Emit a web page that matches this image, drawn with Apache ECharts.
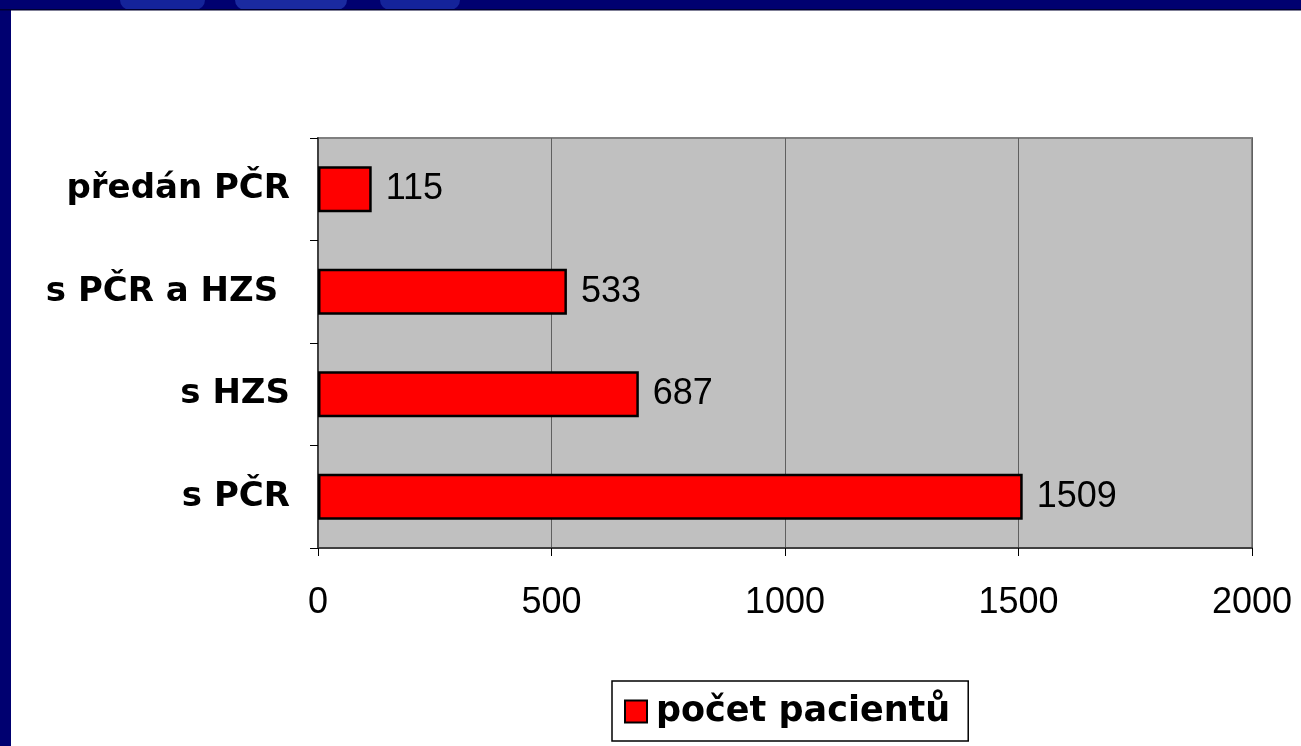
<!DOCTYPE html>
<html>
<head>
<meta charset="utf-8">
<script src="https://cdn.jsdelivr.net/npm/echarts@6/dist/echarts.min.js"></script>
<style>
html,body{margin:0;padding:0;background:#fff;}
#c{width:1301px;height:746px;}
</style>
</head>
<body>
<div id="c"></div>
<script>
// Data
var categories = ['s PČR', 's HZS', 's PČR a HZS ', 'předán PČR'];
var values = [1509, 687, 533, 115];
var seriesName = 'počet pacientů';
var xMin = 0, xMax = 2000, xInterval = 500;

var chart = echarts.init(document.getElementById('c'), null, {renderer: 'canvas'});
var navy = '#000070';
chart.setOption({
  backgroundColor: '#ffffff',
  animation: false,
  graphic: [
    {type: 'rect', shape: {x: 0, y: 0, width: 1301, height: 10}, style: {fill: navy}, z: 100},
    {type: 'rect', shape: {x: 0, y: 0, width: 11, height: 746}, style: {fill: navy}, z: 100},
    {type: 'rect', shape: {x: 120, y: 0, width: 85, height: 10, r: [0, 0, 30, 30]}, style: {fill: '#14239a'}, z: 101},
    {type: 'rect', shape: {x: 235, y: 0, width: 112, height: 10, r: [0, 0, 30, 30]}, style: {fill: '#1a2aa0'}, z: 101},
    {type: 'rect', shape: {x: 380, y: 0, width: 80, height: 10, r: [0, 0, 30, 30]}, style: {fill: '#14239a'}, z: 101},
    {type: 'rect', shape: {x: 0, y: 9, width: 1301, height: 1.5}, style: {fill: '#000030'}, z: 102}
  ],
  grid: {
    left: 318, top: 138, right: 49, bottom: 198,
    show: true, backgroundColor: '#C0C0C0', borderColor: '#808080', borderWidth: 2
  },
  legend: {
    data: [seriesName],
    left: 612, top: 681,
    backgroundColor: '#ffffff',
    borderColor: '#000000', borderWidth: 1.5,
    padding: [13, 18, 12, 12],
    itemWidth: 22, itemHeight: 22, itemGap: 10,
    icon: 'rect',
    itemStyle: {color: '#ff0000', borderColor: '#000', borderWidth: 2},
    textStyle: {fontFamily: 'DejaVu Sans', fontWeight: 'bold', fontSize: 35, color: '#000', padding: [0, 0, 0, 4]}
  },
  xAxis: {
    type: 'value', min: xMin, max: xMax, interval: xInterval,
    axisLine: {show: true, lineStyle: {color: '#404040', width: 2}},
    axisTick: {show: true, length: 8, lineStyle: {color: '#000', width: 1}},
    splitLine: {show: true, lineStyle: {color: '#606060', width: 1}},
    axisLabel: {fontFamily: 'Liberation Sans', fontSize: 36, color: '#000', margin: 37,
      formatter: function (v) { return String(v); }}
  },
  yAxis: {
    type: 'category', data: categories,
    axisLine: {show: true, lineStyle: {color: '#404040', width: 2}},
    axisTick: {show: true, length: 8, lineStyle: {color: '#000', width: 1}},
    axisLabel: {fontFamily: 'DejaVu Sans', fontWeight: 'bold', fontSize: 34, color: '#000', margin: 28}
  },
  series: [{
    name: seriesName,
    type: 'bar',
    data: values,
    barWidth: 46,
    itemStyle: {color: '#ff0000', borderColor: '#000', borderWidth: 2.5},
    label: {show: true, position: 'right', distance: 14, fontFamily: 'Liberation Sans', fontSize: 36, color: '#000',
      formatter: function (p) { return String(p.value); }}
  }]
});
</script>
</body>
</html>
